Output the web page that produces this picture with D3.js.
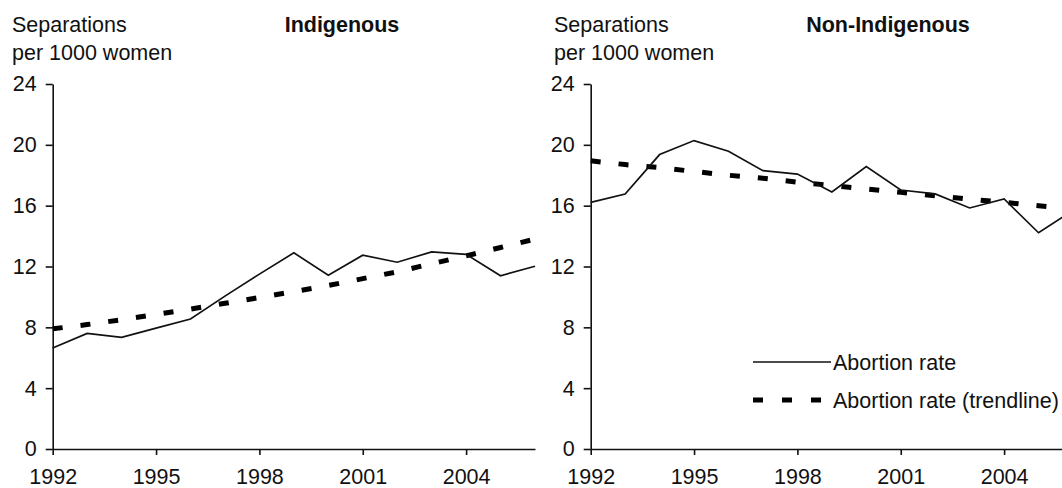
<!DOCTYPE html>
<html>
<head>
<meta charset="utf-8">
<script src="https://cdn.jsdelivr.net/npm/d3@7"></script>
<style>
  html, body { margin: 0; padding: 0; background: #fff; overflow: hidden; }
  svg { display: block; }
  text { font-family: "Liberation Sans", Arial, sans-serif; fill: #111; }
</style>
</head>
<body>
<svg id="chart" width="1062" height="488"></svg>
<script>
// ---- data ----
const years = [1992,1993,1994,1995,1996,1997,1998,1999,2000,2001,2002,2003,2004,2005,2006];
const indigenousRate  = [6.64,7.6,7.34,7.95,8.55,10.05,11.5,12.9,11.43,12.74,12.28,12.96,12.8,11.39,12.02];
const indigenousTrend = [7.9,8.18,8.5,8.85,9.2,9.58,9.96,10.35,10.75,11.2,11.65,12.18,12.7,13.25,13.8];
const nonIndigenousRate  = [16.22,16.77,19.36,20.28,19.58,18.3,18.08,16.9,18.57,17.03,16.77,15.85,16.44,14.22,15.7];
const nonIndigenousTrend = [18.95,18.7,18.5,18.25,18.0,17.8,17.55,17.33,17.1,16.88,16.65,16.43,16.22,16.0,15.78];
const yTicks = [0,4,8,12,16,20,24];
const xTicks = [1992,1995,1998,2001,2004];
const panelTitles = ["Indigenous","Non-Indigenous"];
const yAxisTitle = ["Separations","per 1000 women"];
const legendLabels = ["Abortion rate","Abortion rate (trendline)"];

// ---- layout ----
const svg = d3.select("#chart");
const FS = 21.5;
const panelOffset = 538;
const y = d3.scaleLinear().domain([0,24]).range([449,84]);

function drawPanel(idx, rate, trend, showLegend) {
  const ox = idx * panelOffset;
  const x = d3.scaleLinear().domain([1992,2006]).range([52.7 + ox, 535 + ox]);
  const g = svg.append("g");

  // y axis
  const ya = g.append("g").attr("transform", `translate(${x(1992)},0)`)
    .call(d3.axisLeft(y).tickValues(yTicks).tickSize(7).tickSizeOuter(0).tickPadding(9));
  // x axis
  const xa = g.append("g").attr("transform", `translate(0,${y(0)})`)
    .call(d3.axisBottom(x).tickValues(xTicks).tickFormat(d3.format("d")).tickSize(6).tickSizeOuter(0).tickPadding(14));
  [ya, xa].forEach(a => {
    a.selectAll("path.domain").attr("stroke", "#111").attr("stroke-width", 1.6);
    a.selectAll(".tick line").attr("stroke", "#111").attr("stroke-width", 1.6);
    a.selectAll(".tick text").style("font-size", FS + "px").style("font-family", "'Liberation Sans', Arial, sans-serif").attr("fill", "#111");
  });

  // axis title
  const tx = idx === 0 ? 12 : 554;
  g.append("text").attr("x", tx).attr("y", 32).style("font-size", FS + "px").text(yAxisTitle[0]);
  g.append("text").attr("x", tx).attr("y", 60).style("font-size", FS + "px").text(yAxisTitle[1]);
  // panel title
  g.append("text").attr("x", (idx === 0 ? 342 : 888)).attr("y", 32)
    .attr("text-anchor", "middle").style("font-size", FS + "px").style("font-weight", "bold")
    .text(panelTitles[idx]);

  const line = d3.line().x((d, i) => x(years[i])).y(d => y(d));

  g.append("path").datum(trend).attr("d", line)
    .attr("fill", "none").attr("stroke", "#000").attr("stroke-width", 5)
    .attr("stroke-dasharray", "10,18");
  g.append("path").datum(rate).attr("d", line)
    .attr("fill", "none").attr("stroke", "#111").attr("stroke-width", 1.7)
    .attr("stroke-linejoin", "miter");

  if (showLegend) {
    const lg = svg.append("g");
    lg.append("line").attr("x1", 753).attr("x2", 831).attr("y1", 362).attr("y2", 362)
      .attr("stroke", "#111").attr("stroke-width", 1.7);
    lg.append("text").attr("x", 833).attr("y", 369.5).style("font-size", FS + "px").text(legendLabels[0]);
    lg.append("line").attr("x1", 753).attr("x2", 823).attr("y1", 400).attr("y2", 400)
      .attr("stroke", "#000").attr("stroke-width", 5).attr("stroke-dasharray", "10,19");
    lg.append("text").attr("x", 833).attr("y", 407.5).style("font-size", FS + "px").text(legendLabels[1]);
  }
}

drawPanel(0, indigenousRate, indigenousTrend, false);
drawPanel(1, nonIndigenousRate, nonIndigenousTrend, true);
</script>
</body>
</html>
